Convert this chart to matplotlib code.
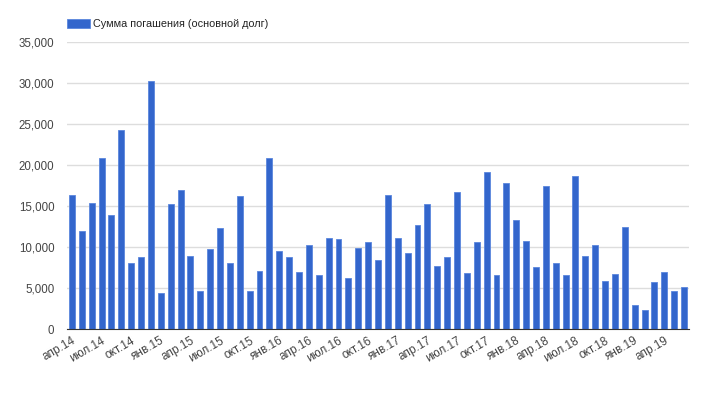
import matplotlib.pyplot as plt
import numpy as np

plt.rcParams['font.family'] = ['Liberation Sans', 'DejaVu Sans']

# помесячно: апр.14 .. июн.19
values = [16400, 12000, 15400, 20800, 13900, 24300, 8000, 8800, 30300,
          4400, 15200, 17000, 8850, 4600, 9800, 12300, 8000, 16200, 4650,
          7100, 20800, 9500, 8770, 6930, 10200, 6570, 11100, 10970, 6240,
          9910, 10640, 8400, 16350, 11050, 9220, 12720, 15300, 7630, 8770,
          16680, 6770, 10560, 19170, 6610, 17820, 13340, 10730, 7540, 17410,
          8030, 6610, 18640, 8850, 10280, 5830, 6690, 12480, 2980, 2320,
          5710, 7010, 4650, 5100]
tick_labels = ['апр.14', 'июл.14', 'окт.14', 'янв.15', 'апр.15', 'июл.15',
               'окт.15', 'янв.16', 'апр.16', 'июл.16', 'окт.16', 'янв.17',
               'апр.17', 'июл.17', 'окт.17', 'янв.18', 'апр.18', 'июл.18',
               'окт.18', 'янв.19', 'апр.19']
series_name = 'Сумма погашения (основной долг)'

x = np.arange(len(values))

fig = plt.figure(figsize=(7.28, 3.96), dpi=100)
ax = fig.add_axes([67 / 728, 1 - 329 / 396, 622 / 728, 287 / 396])

ax.bar(x, values, width=0.6, color='#3366cc', edgecolor='#5a86dd',
       linewidth=0.6, label=series_name, zorder=3)

ax.set_xlim(-0.5, len(values) - 0.5)
ax.set_ylim(0, 35000)
ax.set_yticks(np.arange(0, 35001, 5000))
ax.set_yticklabels([f'{v:,}' for v in range(0, 35001, 5000)])
ax.set_xticks(x[::3])
ax.set_xticklabels(tick_labels, rotation=30, ha='right', rotation_mode='anchor')

ax.grid(axis='y', color='#dddddd', linewidth=1, zorder=0)
for s in ['top', 'right', 'left']:
    ax.spines[s].set_visible(False)
ax.spines['bottom'].set_color('#333333')
ax.spines['bottom'].set_zorder(4)
ax.tick_params(axis='both', length=0, colors='#444444')
ax.tick_params(axis='y', pad=9, labelsize=8.3)
ax.tick_params(axis='x', pad=4, labelsize=8.5)

ax.legend(loc='lower left', bbox_to_anchor=(0, 1.045), frameon=False,
          fontsize=7.8, handlelength=2.1, handleheight=0.85, handletextpad=0.3,
          borderaxespad=0, borderpad=0, labelcolor='#222222')

fig.savefig('out.png', dpi=100)
